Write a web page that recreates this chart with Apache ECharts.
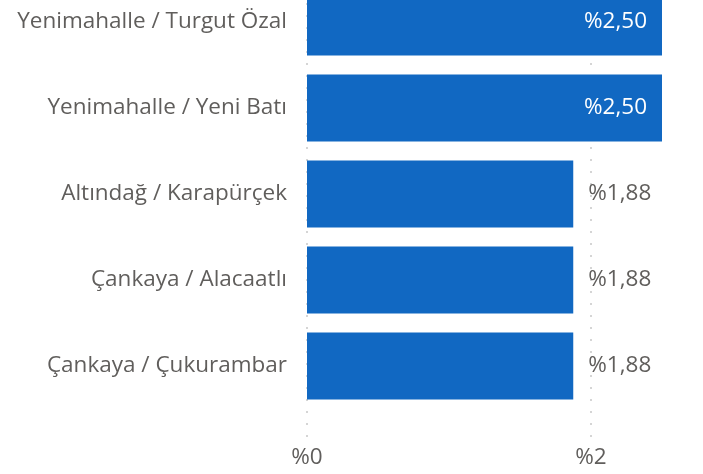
<!DOCTYPE html>
<html>
<head>
<meta charset="utf-8">
<script src="https://cdn.jsdelivr.net/npm/echarts@6/dist/echarts.min.js"></script>
<style>
  html, body { margin: 0; padding: 0; background: #fff; overflow: hidden; }
  /* the visual is scrolled: top bar is cut at the top edge */
  #chart { width: 703px; height: 496px; margin-top: -21.5px; }
</style>
</head>
<body>
<div id="chart"></div>
<script>
// categories top to bottom
var categories = [
  'Yenimahalle / Turgut Özal',
  'Yenimahalle / Yeni Batı',
  'Altındağ / Karapürçek',
  'Çankaya / Alacaatlı',
  'Çankaya / Çukurambar'
];
var values = [2.5, 2.5, 1.875, 1.875, 1.875];
var labelInside = [true, true, false, false, false];
var xTicks = [0, 2];

var fontFam = '"Open Sans", "Noto Sans", sans-serif';
var textColor = '#605E5C';
var fontSize = 22.5;

function fmt(v, digits) {
  return '%' + v.toFixed(digits).replace('.', ',');
}

var myChart = echarts.init(document.getElementById('chart'));
var option = {
  animation: false,
  grid: [
    { left: 307, right: 41, top: 0, height: 430 },
    { left: 307, right: 41, top: 0, height: 458.5 }
  ],
  xAxis: [
    {
      gridIndex: 0, type: 'value', min: 0, max: 2.5, show: false
    },
    {
      // axis only for the dotted gridlines and tick labels
      gridIndex: 1, type: 'value', min: 0, max: 2.5, interval: 2,
      axisLine: { show: false },
      axisTick: { show: false, customValues: xTicks },
      axisLabel: {
        customValues: xTicks,
        formatter: function (v) { return fmt(v, 0); },
        color: textColor,
        fontFamily: fontFam,
        fontSize: fontSize,
        margin: 9
      },
      splitLine: {
        show: true,
        lineStyle: { color: '#c8c8c8', type: [2, 10], width: 1.5 }
      }
    }
  ],
  yAxis: [
    {
      gridIndex: 0,
      type: 'category',
      data: categories,
      inverse: true,
      axisLine: { show: false },
      axisTick: { show: false },
      axisLabel: {
        color: textColor,
        fontFamily: fontFam,
        fontSize: fontSize,
        margin: 20,
        padding: [5, 0, 0, 0]
      }
    },
    { gridIndex: 1, type: 'value', show: false, min: 0, max: 1 }
  ],
  series: [{
    type: 'bar',
    xAxisIndex: 0,
    yAxisIndex: 0,
    z: 3,
    barCategoryGap: '22%',
    itemStyle: { color: '#1168C2' },
    data: values.map(function (v, i) {
      return {
        value: v,
        label: labelInside[i]
          ? { position: 'insideRight', distance: 15, color: '#ffffff' }
          : { position: 'right', distance: 15, color: textColor }
      };
    }),
    label: {
      show: true,
      fontFamily: fontFam,
      fontSize: fontSize,
      padding: [5, 0, 0, 0],
      formatter: function (p) { return fmt(p.value, 2); }
    }
  }]
};
myChart.clear();
myChart.setOption(option);
window.addEventListener('resize', function () { myChart.resize(); });
</script>
</body>
</html>
